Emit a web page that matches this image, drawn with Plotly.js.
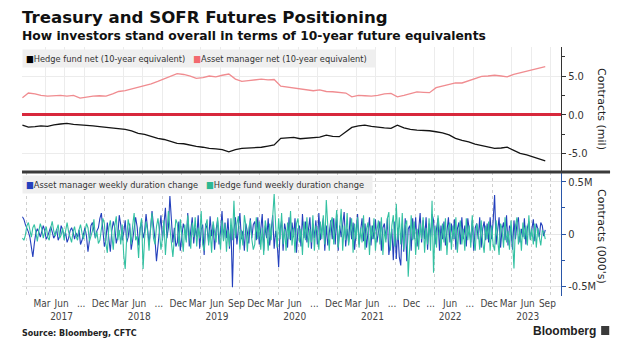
<!DOCTYPE html>
<html>
<head>
<meta charset="utf-8">
<script src="https://cdn.plot.ly/plotly-3.0.1.min.js"></script>
<style>html,body{margin:0;padding:0;background:#fff;}#chart{width:633px;height:351px;}</style>
</head>
<body>
<div id="chart"></div>
<script>
// ---- Top panel: monthly net positions (millions of 10-year equivalents) ----
const topDates = [
 '2016-12-13',
 '2017-01-10','2017-02-10','2017-03-10','2017-04-10','2017-05-10','2017-06-10','2017-07-10','2017-08-10','2017-09-10','2017-10-10','2017-11-10','2017-12-10',
 '2018-01-10','2018-02-10','2018-03-10','2018-04-10','2018-05-10','2018-06-10','2018-07-10','2018-08-10','2018-09-10','2018-10-10','2018-11-10','2018-12-10',
 '2019-01-10','2019-02-10','2019-03-10','2019-04-10','2019-05-10','2019-06-10','2019-07-10','2019-08-10','2019-09-10','2019-10-10','2019-11-10','2019-12-10',
 '2020-01-10','2020-02-10','2020-03-10','2020-04-10','2020-05-10','2020-06-10','2020-07-10','2020-08-10','2020-09-10','2020-10-10','2020-11-10','2020-12-10',
 '2021-01-10','2021-02-10','2021-03-10','2021-04-10','2021-05-10','2021-06-10','2021-07-10','2021-08-10','2021-09-10','2021-10-10','2021-11-10','2021-12-10',
 '2022-01-10','2022-02-10','2022-03-10','2022-04-10','2022-05-10','2022-06-10','2022-07-10','2022-08-10','2022-09-10','2022-10-10','2022-11-10','2022-12-10',
 '2023-01-10','2023-02-10','2023-03-10','2023-04-10','2023-05-10','2023-06-10','2023-07-10','2023-08-10','2023-09-05'
];
const hedgeFundNet = [
 -1.35,
 -1.6,-1.55,-1.45,-1.5,-1.3,-1.2,-1.12,-1.25,-1.3,-1.34,-1.45,-1.55,
 -1.64,-1.7,-1.75,-1.9,-2.1,-2.4,-2.55,-2.8,-3.06,-3.2,-3.5,-3.7,
 -3.75,-3.95,-4.1,-4.2,-4.35,-4.4,-4.5,-4.8,-4.5,-4.35,-4.3,-4.25,
 -4.2,-4.05,-3.9,-3.06,-3.0,-2.93,-3.1,-3.06,-3.0,-2.9,-2.63,-2.8,
 -2.84,-2.2,-1.64,-1.45,-1.34,-1.5,-1.64,-1.7,-1.77,-1.34,-1.7,-1.9,
 -1.98,-2.0,-2.07,-2.2,-2.33,-2.6,-3.06,-3.3,-3.5,-3.8,-4.0,-4.14,
 -4.35,-4.3,-4.2,-4.6,-5.0,-5.2,-5.43,-5.7,-5.95
];
const assetManagerNet = [
 2.2,
 2.8,2.7,2.5,2.4,2.45,2.5,2.4,2.5,2.15,2.3,2.4,2.45,
 2.4,2.7,3.0,3.1,3.3,3.6,3.8,4.0,4.3,4.6,5.0,5.3,
 5.2,5.0,4.7,4.8,5.0,4.9,5.1,5.26,4.6,4.3,4.4,4.5,
 4.6,4.5,4.55,3.7,3.6,3.5,3.4,3.3,3.1,3.2,3.0,2.97,
 2.85,2.8,2.3,2.5,2.45,2.4,2.5,2.7,2.76,2.3,2.5,2.7,
 2.95,2.9,2.85,3.5,3.7,4.0,4.1,4.1,4.4,4.7,4.95,5.0,
 5.1,5.0,4.9,5.2,5.4,5.6,5.8,6.05,6.2
];

// ---- Bottom panel: weekly duration change (thousands of contracts), weekly from 2016-12-13 ----
const weeklyStart = '2016-12-13';
const assetManagerWeekly = [
 165,140,90,60,20,-30,-120,-220,-90,10,50,20,-30,40,80,30,-50,-20,40,70,20,-40,-10,50,-60,-20,80,40,-30,10,-80,-40,30,60,20,-50,10,-30,40,-100,-60,10,60,-20,-170,-60,80,110,20,-40,30,60,
 150,200,40,-120,-60,110,-40,-170,30,120,60,-90,-20,180,90,-60,10,130,-80,-30,100,-150,-60,40,160,70,-110,50,120,-40,20,190,60,-90,40,220,80,-50,-260,-90,70,180,-60,120,250,-40,60,363,150,-80,60,-120,
 -80,120,-160,-40,100,40,-60,200,-120,30,160,-90,60,-30,180,-140,40,90,-200,100,50,-80,170,-20,90,-150,40,130,-100,20,220,-60,110,-40,150,-140,80,-510,40,160,-100,60,200,-50,30,-160,100,20,-90,150,-40,90,
 120,-60,160,-100,40,190,-160,80,-40,150,-110,60,180,-140,30,-80,-318,40,130,-160,100,20,-130,160,-60,110,-30,150,-180,50,80,-120,190,-40,120,-80,30,160,-140,100,-40,130,-100,200,-60,50,150,-160,80,-110,30,130,
 -50,150,-100,180,-160,80,-30,130,210,-120,50,-80,160,-50,110,-150,60,190,-100,30,150,-70,100,-130,50,160,-110,80,-50,140,-80,30,120,-160,60,100,-50,150,-200,-80,50,-250,120,-240,60,-220,-300,100,-170,150,-260,50,
 80,-160,150,-50,160,-120,60,200,-80,130,-50,160,-150,100,-30,190,130,-100,50,150,-160,80,-50,120,-110,30,160,-80,100,-50,140,-150,50,110,-100,160,-50,80,-120,150,30,-80,130,-160,60,100,-50,160,-130,50,120,-60,
 100,-80,160,-50,120,372,-100,60,160,-130,50,110,-60,180,-110,80,50,-150,130,-50,100,160,-80,50,-30,150,-100,60,120,-50,30,140,-70,100,50,-30,110,80,-20,40
];
const hedgeFundWeekly = [
 -40,-60,-10,80,110,40,-30,60,90,20,-70,30,100,50,-40,20,70,-30,-60,60,120,30,-20,40,90,-40,-10,60,-60,30,110,20,-30,-80,20,70,-20,-60,40,90,10,-50,20,100,60,-70,-20,30,140,-40,20,-90,
 -60,40,150,100,-90,-180,60,130,-40,-150,80,170,-60,40,-100,90,-200,-334,-40,140,60,-100,80,200,-60,-20,-230,60,150,-334,-50,120,30,-160,60,200,-40,-100,70,150,20,-150,-40,130,-200,40,220,60,-80,-220,-40,140,
 100,-120,140,-40,-170,90,-80,180,50,-140,110,-30,160,-120,60,-40,220,-100,-160,80,140,-110,40,-180,120,30,-80,160,-40,-150,130,-70,100,-170,40,-120,150,-60,318,-40,100,170,-150,40,-110,180,80,-170,60,130,-50,-150,
 -100,160,-50,120,-150,60,-200,130,30,-160,100,-60,160,382,80,-130,150,-50,200,-100,50,-160,110,-50,220,-110,60,-180,100,150,-80,50,-200,120,-60,160,-130,50,-80,180,-160,80,30,-150,120,-50,180,-100,325,60,-160,110,
 160,-100,60,230,-130,50,240,-160,80,-60,200,-110,30,150,-180,100,-50,160,-130,60,-80,180,-150,50,110,-200,80,-50,150,-160,30,130,-100,160,-200,50,-80,150,210,-160,80,180,-120,290,-60,160,-100,200,-150,80,130,-408,
 -130,180,-60,120,-200,50,-150,100,-50,160,-180,60,-100,150,-160,318,-370,80,-130,180,30,-160,100,-80,150,-200,50,110,-150,80,-50,160,-180,30,130,-100,50,-160,150,-60,80,-130,180,-50,-160,100,30,-150,130,-80,-180,80,
 -50,120,-160,80,-100,-160,130,-60,-200,100,50,-130,160,-80,30,-150,130,-50,-330,80,160,-100,50,-160,110,-50,80,-110,180,-60,50,-100,100,-130,60,-30,-110,30,20,-50
];

// ---- X-axis tick labels (quarter months) ----
const tickDates = [
 '2017-03-15','2017-06-15','2017-09-15','2017-12-15',
 '2018-03-15','2018-06-15','2018-09-15','2018-12-15',
 '2019-03-15','2019-06-15','2019-09-15','2019-12-15',
 '2020-03-15','2020-06-15','2020-09-15','2020-12-15',
 '2021-03-15','2021-06-15','2021-09-15','2021-12-15',
 '2022-03-15','2022-06-15','2022-09-15','2022-12-15',
 '2023-03-15','2023-06-15','2023-09-15'
];
const tickLabels = [
 'Mar','Jun<br>2017','...','Dec',
 'Mar','Jun<br>2018','...','Dec',
 'Mar','Jun<br>2019','Sep','Dec',
 'Mar','Jun<br>2020','...','Dec',
 'Mar','Jun<br>2021','...','Dec',
 '...','Jun<br>2022','...','Dec',
 'Mar','Jun<br>2023','Sep'
];

const weeklyDates = [];
{
  const t0 = Date.parse(weeklyStart + 'T00:00:00Z');
  for (let i = 0; i < assetManagerWeekly.length; i++) {
    weeklyDates.push(new Date(t0 + i * 7 * 86400000).toISOString().slice(0, 10));
  }
}

const C_BLACK = '#141414', C_PINK = '#f08c90', C_BLUE = '#2440bd', C_TEAL = '#33c1a2';
const xRange = ['2016-12-11', '2023-11-18'];
const yTop = (296 - 172) / 249;

const traces = [
  {x: topDates, y: hedgeFundNet, xaxis: 'x2', yaxis: 'y', type: 'scatter', mode: 'lines',
   line: {color: C_BLACK, width: 1.3}, name: 'Hedge fund net (10-year equivalent)'},
  {x: topDates, y: assetManagerNet, xaxis: 'x2', yaxis: 'y', type: 'scatter', mode: 'lines',
   line: {color: C_PINK, width: 1.3}, name: 'Asset manager net (10-year equivalent)'},
  {x: weeklyDates, y: assetManagerWeekly, xaxis: 'x', yaxis: 'y2', type: 'scatter', mode: 'lines',
   line: {color: C_BLUE, width: 1.1}, name: 'Asset manager weekly duration change'},
  {x: weeklyDates, y: hedgeFundWeekly, xaxis: 'x', yaxis: 'y2', type: 'scatter', mode: 'lines',
   line: {color: C_TEAL, width: 1.1}, name: 'Hedge fund weekly duration change'}
];

const FONT = 'DejaVu Sans Condensed, DejaVu Sans, sans-serif';
const layout = {
  width: 633, height: 351,
  margin: {l: 22, r: 72, t: 47, b: 55},
  paper_bgcolor: '#ffffff', plot_bgcolor: '#ffffff',
  showlegend: false,
  font: {family: FONT, size: 10, color: '#333'},
  xaxis: {
    type: 'date', anchor: 'y2', range: xRange, domain: [0, 1],
    tickmode: 'array', tickvals: tickDates, ticktext: tickLabels, tickangle: 0,
    ticks: '', showgrid: false, zeroline: false, showline: false,
    tickfont: {family: FONT, size: 10, color: '#444'},
    minor: {tick0: '2017-01-01', dtick: 'M3', showgrid: true, griddash: 'dot', gridcolor: '#cfcfcf', gridwidth: 1, ticks: ''}
  },
  xaxis2: {
    type: 'date', anchor: 'y', matches: 'x', domain: [0, 1],
    showticklabels: false, ticks: '', showgrid: false, zeroline: false,
    minor: {tick0: '2017-01-01', dtick: 'M3', showgrid: true, gridcolor: '#ececec', gridwidth: 1, ticks: ''}
  },
  yaxis: {
    domain: [yTop, 1], side: 'right', range: [-7.4, 8.75],
    tickmode: 'array', tickvals: [-5, 0, 5], ticktext: ['-5.0', '0.0', '5.0'],
    ticks: 'outside', ticklen: 4, tickcolor: '#333',
    showline: true, linecolor: '#333', linewidth: 1,
    showgrid: true, gridcolor: '#ececec',
    zeroline: true, zerolinecolor: '#d8283c', zerolinewidth: 2.5,
    tickfont: {family: FONT, size: 11, color: '#333'},
    minor: {tickmode: 'array', tickvals: [-7.5, -2.5, 2.5, 7.5], ticks: 'outside', ticklen: 3, tickcolor: '#333', showgrid: false}
  },
  yaxis2: {
    domain: [0, yTop], side: 'right', range: [-593, 593],
    tickmode: 'array', tickvals: [-500, 0, 500], ticktext: ['-0.5M', '0', '0.5M'],
    ticks: 'outside', ticklen: 4, tickcolor: '#2a56a8',
    showline: true, linecolor: '#2a56a8', linewidth: 1,
    showgrid: true, gridcolor: '#e6e6e6', zeroline: false,
    tickfont: {family: FONT, size: 11, color: '#333'},
    minor: {tickmode: 'array', tickvals: [-250, 250], ticks: 'outside', ticklen: 3, tickcolor: '#2a56a8', showgrid: false}
  },
  shapes: [
    {type: 'line', xref: 'paper', yref: 'paper', x0: 0, x1: 1.091, y0: yTop, y1: yTop,
     line: {color: '#3a3a3a', width: 3}},
    {type: 'rect', xref: 'paper', yref: 'paper', x0: 1.0745, x1: 1.0895, y0: -0.1566, y1: -0.1205,
     line: {width: 0}, fillcolor: '#3a3a3a'}
  ],
  annotations: [
    {xref: 'paper', yref: 'paper', x: -0.004, y: 1.1165, xanchor: 'left', yanchor: 'middle', showarrow: false,
     text: '<b>Treasury and SOFR Futures Positioning</b>',
     font: {family: 'DejaVu Sans, sans-serif', size: 16.6, color: '#111'}},
    {xref: 'paper', yref: 'paper', x: -0.004, y: 1.044, xanchor: 'left', yanchor: 'middle', showarrow: false,
     text: '<b>How investors stand overall in terms of 10-year future equivalents</b>',
     font: {family: 'DejaVu Sans, sans-serif', size: 12.3, color: '#111'}},
    {xref: 'paper', yref: 'paper', x: 0, y: (296 - 58) / 249, xanchor: 'left', yanchor: 'middle', showarrow: false,
     bgcolor: '#efefef', borderpad: 3,
     text: '<span style="color:#000">■</span>Hedge fund net (10-year equivalent)   <span style="color:#f2696f">■</span>Asset manager net (10-year equivalent)  ',
     font: {family: FONT, size: 9.2, color: '#333'}},
    {xref: 'paper', yref: 'paper', x: 0, y: (296 - 184) / 249, xanchor: 'left', yanchor: 'middle', showarrow: false,
     bgcolor: '#efefef', borderpad: 3,
     text: '<span style="color:' + C_BLUE + '">■</span>Asset manager weekly duration change   <span style="color:#2db792">■</span>Hedge fund weekly duration change  ',
     font: {family: FONT, size: 9.2, color: '#333'}},
    {xref: 'paper', yref: 'paper', x: (602 - 22) / 539, y: (296 - 109) / 249, xanchor: 'center', yanchor: 'middle', showarrow: false,
     textangle: 90, text: 'Contracts (mil)', font: {family: 'DejaVu Sans, sans-serif', size: 11, color: '#222'}},
    {xref: 'paper', yref: 'paper', x: (602 - 22) / 539, y: (296 - 236) / 249, xanchor: 'center', yanchor: 'middle', showarrow: false,
     textangle: 90, text: "Contracts (000's)", font: {family: 'DejaVu Sans, sans-serif', size: 11, color: '#222'}},
    {xref: 'paper', yref: 'paper', x: -0.004, y: (296 - 333) / 249, xanchor: 'left', yanchor: 'middle', showarrow: false,
     text: '<b>Source: Bloomberg, CFTC</b>', font: {family: 'DejaVu Sans, sans-serif', size: 8, color: '#222'}},
    {xref: 'paper', yref: 'paper', x: (598 - 22) / 539, y: (296 - 331) / 249, xanchor: 'right', yanchor: 'middle', showarrow: false,
     text: '<b>Bloomberg</b>', font: {family: 'Liberation Sans, Arial, sans-serif', size: 12, color: '#222'}}
  ]
};

Plotly.newPlot('chart', traces, layout, {displayModeBar: false, staticPlot: true});
</script>
</body>
</html>
